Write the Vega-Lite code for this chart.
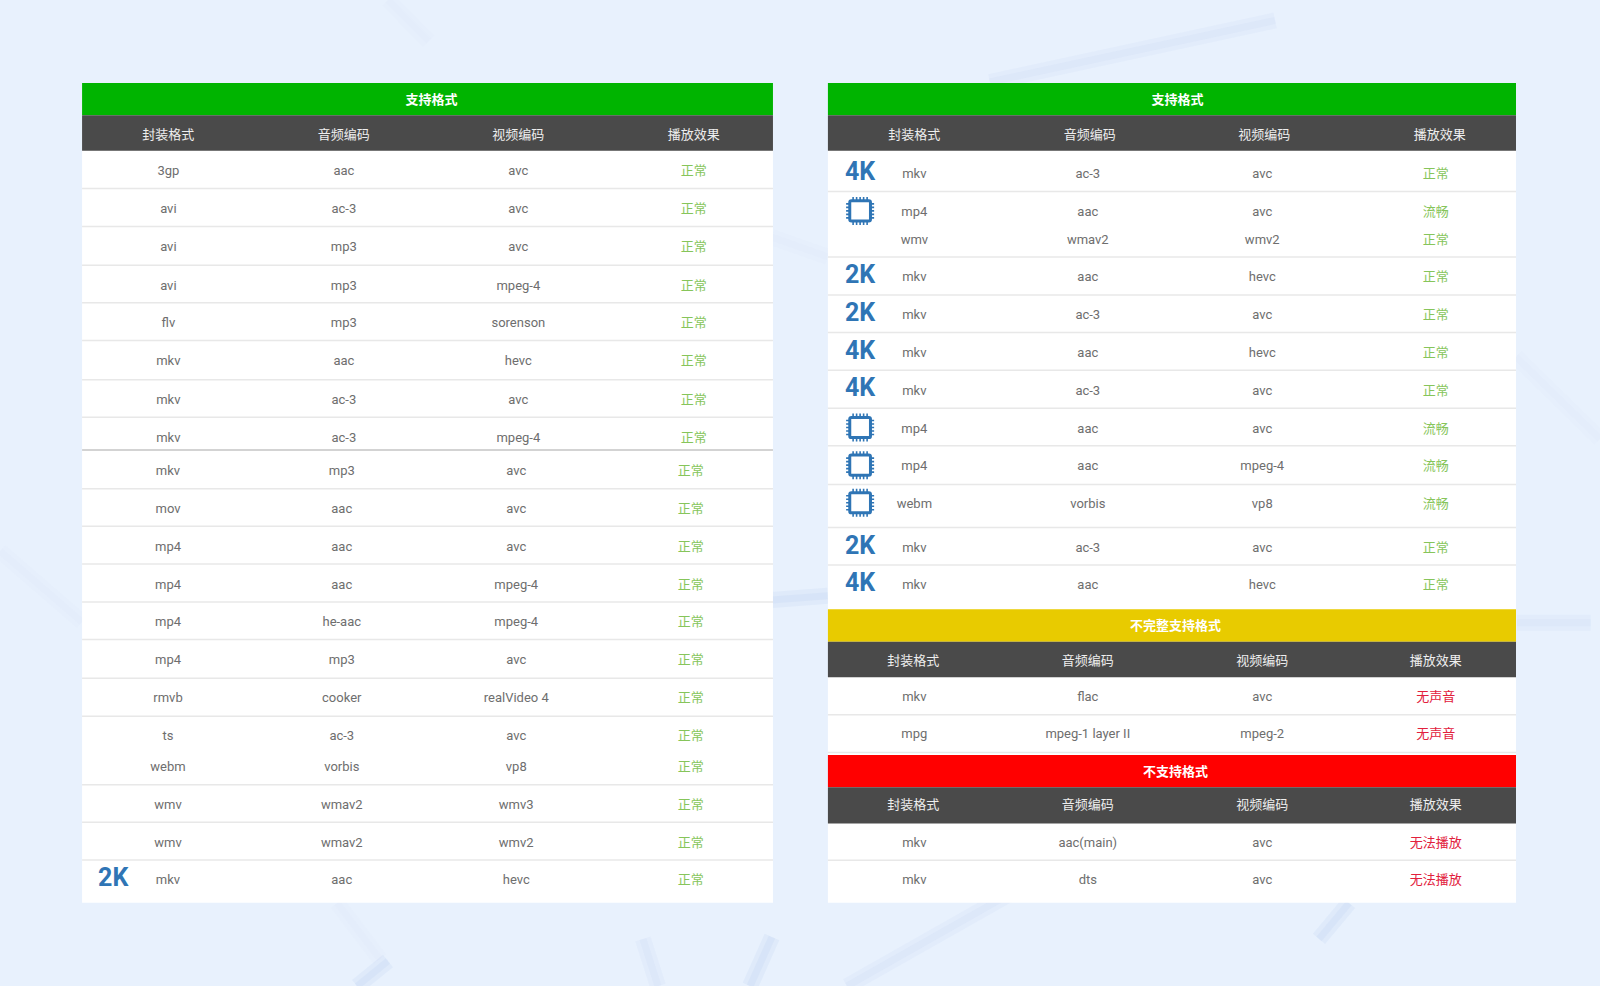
{
  "$schema": "https://vega.github.io/schema/vega-lite/v6.json",
  "width": 1600,
  "height": 986,
  "autosize": {"type": "fit", "contains": "padding"},
  "padding": 0,
  "background": "#e8f1fd",
  "view": {"stroke": null},
  "config": {"text": {"font": "Roboto, 'Noto Sans CJK SC'", "fontSize": 13}},
  "resolve": {"scale": {"color": "independent"}},
  "datasets": {
    "streaks": [
      {"col": 5.657, "row": 2.158, "col2": 7.286, "row2": 0.537, "strength": 2},
      {"col": 7.537, "row": 24.71, "col2": 7.709, "row2": 23.76, "strength": 3},
      {"col": 8.669, "row": 16.39, "col2": 9.09, "row2": 16.39, "strength": 2},
      {"col": 4.41, "row": 15.79, "col2": 4.73, "row2": 15.68, "strength": 3},
      {"col": 4.286, "row": 25.95, "col2": 4.411, "row2": 24.66, "strength": 3},
      {"col": 4.84, "row": 25.95, "col2": 5.83, "row2": 23.37, "strength": 2},
      {"col": 3.674, "row": 24.71, "col2": 3.76, "row2": 25.95, "strength": 2},
      {"col": 2.04, "row": 25.95, "col2": 2.217, "row2": 25.29, "strength": 3},
      {"col": 0, "row": 14.5, "col2": 0.469, "row2": 16.37, "strength": 1},
      {"col": 1.926, "row": 23.76, "col2": 2.171, "row2": 25.24, "strength": 1},
      {"col": 4.41, "row": 6.24, "col2": 4.73, "row2": 6.76, "strength": 1},
      {"col": 8.663, "row": 9.39, "col2": 9.143, "row2": 11.55, "strength": 1},
      {"col": 2.217, "row": 0, "col2": 2.451, "row2": 1.08, "strength": 1}
    ],
    "bands": [
      {"col": 0.469, "col2": 4.417, "row": 2.184, "row2": 23.755, "kind": "body"},
      {"col": 0.469, "col2": 4.417, "row": 2.184, "row2": 3.034, "kind": "ok"},
      {"col": 0.469, "col2": 4.417, "row": 3.034, "row2": 3.966, "kind": "head"},
      {"col": 4.731, "col2": 8.663, "row": 2.184, "row2": 23.755, "kind": "body"},
      {"col": 4.731, "col2": 8.663, "row": 2.184, "row2": 3.034, "kind": "ok"},
      {"col": 4.731, "col2": 8.663, "row": 3.034, "row2": 3.966, "kind": "head"},
      {"col": 4.731, "col2": 8.663, "row": 16.03, "row2": 16.89, "kind": "partial"},
      {"col": 4.731, "col2": 8.663, "row": 16.89, "row2": 17.82, "kind": "head"},
      {"col": 4.731, "col2": 8.663, "row": 19.87, "row2": 20.72, "kind": "none"},
      {"col": 4.731, "col2": 8.663, "row": 20.72, "row2": 21.67, "kind": "head"}
    ],
    "lines": [
      {"col": 0.469, "col2": 4.417, "row": 4.96, "tone": "light"},
      {"col": 0.469, "col2": 4.417, "row": 5.96, "tone": "light"},
      {"col": 0.469, "col2": 4.417, "row": 6.98, "tone": "light"},
      {"col": 0.469, "col2": 4.417, "row": 7.97, "tone": "light"},
      {"col": 0.469, "col2": 4.417, "row": 8.96, "tone": "light"},
      {"col": 0.469, "col2": 4.417, "row": 9.99, "tone": "light"},
      {"col": 0.469, "col2": 4.417, "row": 10.98, "tone": "light"},
      {"col": 0.469, "col2": 4.417, "row": 11.84, "tone": "dark"},
      {"col": 0.469, "col2": 4.417, "row": 12.86, "tone": "light"},
      {"col": 0.469, "col2": 4.417, "row": 13.85, "tone": "light"},
      {"col": 0.469, "col2": 4.417, "row": 14.84, "tone": "light"},
      {"col": 0.469, "col2": 4.417, "row": 15.84, "tone": "light"},
      {"col": 0.469, "col2": 4.417, "row": 16.83, "tone": "light"},
      {"col": 0.469, "col2": 4.417, "row": 17.85, "tone": "light"},
      {"col": 0.469, "col2": 4.417, "row": 18.85, "tone": "light"},
      {"col": 0.469, "col2": 4.417, "row": 20.65, "tone": "light"},
      {"col": 0.469, "col2": 4.417, "row": 21.64, "tone": "light"},
      {"col": 0.469, "col2": 4.417, "row": 22.63, "tone": "light"},
      {"col": 4.731, "col2": 8.663, "row": 5.04, "tone": "light"},
      {"col": 4.731, "col2": 8.663, "row": 6.76, "tone": "light"},
      {"col": 4.731, "col2": 8.663, "row": 7.76, "tone": "light"},
      {"col": 4.731, "col2": 8.663, "row": 8.75, "tone": "light"},
      {"col": 4.731, "col2": 8.663, "row": 9.74, "tone": "light"},
      {"col": 4.731, "col2": 8.663, "row": 10.74, "tone": "light"},
      {"col": 4.731, "col2": 8.663, "row": 11.73, "tone": "light"},
      {"col": 4.731, "col2": 8.663, "row": 12.75, "tone": "light"},
      {"col": 4.731, "col2": 8.663, "row": 13.88, "tone": "light"},
      {"col": 4.731, "col2": 8.663, "row": 14.87, "tone": "light"},
      {"col": 4.731, "col2": 8.663, "row": 18.81, "tone": "light"},
      {"col": 4.731, "col2": 8.663, "row": 19.8, "tone": "light"},
      {"col": 4.731, "col2": 8.663, "row": 22.64, "tone": "light"}
    ],
    "badges": [
      {"col": 0.647, "row": 23.06, "label": "2K"},
      {"col": 4.915, "row": 4.48, "label": "4K"},
      {"col": 4.915, "row": 7.19, "label": "2K"},
      {"col": 4.915, "row": 8.19, "label": "2K"},
      {"col": 4.915, "row": 9.18, "label": "4K"},
      {"col": 4.915, "row": 10.17, "label": "4K"},
      {"col": 4.915, "row": 14.31, "label": "2K"},
      {"col": 4.915, "row": 15.3, "label": "4K"}
    ],
    "chips": [
      {"col": 4.915, "row": 5.55},
      {"col": 4.915, "row": 11.25},
      {"col": 4.915, "row": 12.24},
      {"col": 4.915, "row": 13.23}
    ],
    "cells": [
      {"col": 2.466, "row": 2.6, "label": "支持格式", "kind": "title"},
      {"col": 0.962, "row": 3.52, "label": "封装格式", "kind": "head"},
      {"col": 1.965, "row": 3.52, "label": "音频编码", "kind": "head"},
      {"col": 2.962, "row": 3.52, "label": "视频编码", "kind": "head"},
      {"col": 3.965, "row": 3.52, "label": "播放效果", "kind": "head"},
      {"col": 0.962, "row": 4.48, "label": "3gp", "kind": "cell"},
      {"col": 1.965, "row": 4.48, "label": "aac", "kind": "cell"},
      {"col": 2.962, "row": 4.48, "label": "avc", "kind": "cell"},
      {"col": 3.965, "row": 4.48, "label": "正常", "kind": "good"},
      {"col": 0.962, "row": 5.47, "label": "avi", "kind": "cell"},
      {"col": 1.965, "row": 5.47, "label": "ac-3", "kind": "cell"},
      {"col": 2.962, "row": 5.47, "label": "avc", "kind": "cell"},
      {"col": 3.965, "row": 5.47, "label": "正常", "kind": "good"},
      {"col": 0.962, "row": 6.47, "label": "avi", "kind": "cell"},
      {"col": 1.965, "row": 6.47, "label": "mp3", "kind": "cell"},
      {"col": 2.962, "row": 6.47, "label": "avc", "kind": "cell"},
      {"col": 3.965, "row": 6.47, "label": "正常", "kind": "good"},
      {"col": 0.962, "row": 7.49, "label": "avi", "kind": "cell"},
      {"col": 1.965, "row": 7.49, "label": "mp3", "kind": "cell"},
      {"col": 2.962, "row": 7.49, "label": "mpeg-4", "kind": "cell"},
      {"col": 3.965, "row": 7.49, "label": "正常", "kind": "good"},
      {"col": 0.962, "row": 8.48, "label": "flv", "kind": "cell"},
      {"col": 1.965, "row": 8.48, "label": "mp3", "kind": "cell"},
      {"col": 2.962, "row": 8.48, "label": "sorenson", "kind": "cell"},
      {"col": 3.965, "row": 8.48, "label": "正常", "kind": "good"},
      {"col": 0.962, "row": 9.47, "label": "mkv", "kind": "cell"},
      {"col": 1.965, "row": 9.47, "label": "aac", "kind": "cell"},
      {"col": 2.962, "row": 9.47, "label": "hevc", "kind": "cell"},
      {"col": 3.965, "row": 9.47, "label": "正常", "kind": "good"},
      {"col": 0.962, "row": 10.5, "label": "mkv", "kind": "cell"},
      {"col": 1.965, "row": 10.5, "label": "ac-3", "kind": "cell"},
      {"col": 2.962, "row": 10.5, "label": "avc", "kind": "cell"},
      {"col": 3.965, "row": 10.5, "label": "正常", "kind": "good"},
      {"col": 0.962, "row": 11.49, "label": "mkv", "kind": "cell"},
      {"col": 1.965, "row": 11.49, "label": "ac-3", "kind": "cell"},
      {"col": 2.962, "row": 11.49, "label": "mpeg-4", "kind": "cell"},
      {"col": 3.965, "row": 11.49, "label": "正常", "kind": "good"},
      {"col": 0.96, "row": 12.37, "label": "mkv", "kind": "cell"},
      {"col": 1.953, "row": 12.37, "label": "mp3", "kind": "cell"},
      {"col": 2.95, "row": 12.37, "label": "avc", "kind": "cell"},
      {"col": 3.947, "row": 12.37, "label": "正常", "kind": "good"},
      {"col": 0.96, "row": 13.37, "label": "mov", "kind": "cell"},
      {"col": 1.953, "row": 13.37, "label": "aac", "kind": "cell"},
      {"col": 2.95, "row": 13.37, "label": "avc", "kind": "cell"},
      {"col": 3.947, "row": 13.37, "label": "正常", "kind": "good"},
      {"col": 0.96, "row": 14.36, "label": "mp4", "kind": "cell"},
      {"col": 1.953, "row": 14.36, "label": "aac", "kind": "cell"},
      {"col": 2.95, "row": 14.36, "label": "avc", "kind": "cell"},
      {"col": 3.947, "row": 14.36, "label": "正常", "kind": "good"},
      {"col": 0.96, "row": 15.36, "label": "mp4", "kind": "cell"},
      {"col": 1.953, "row": 15.36, "label": "aac", "kind": "cell"},
      {"col": 2.95, "row": 15.36, "label": "mpeg-4", "kind": "cell"},
      {"col": 3.947, "row": 15.36, "label": "正常", "kind": "good"},
      {"col": 0.96, "row": 16.35, "label": "mp4", "kind": "cell"},
      {"col": 1.953, "row": 16.35, "label": "he-aac", "kind": "cell"},
      {"col": 2.95, "row": 16.35, "label": "mpeg-4", "kind": "cell"},
      {"col": 3.947, "row": 16.35, "label": "正常", "kind": "good"},
      {"col": 0.96, "row": 17.34, "label": "mp4", "kind": "cell"},
      {"col": 1.953, "row": 17.34, "label": "mp3", "kind": "cell"},
      {"col": 2.95, "row": 17.34, "label": "avc", "kind": "cell"},
      {"col": 3.947, "row": 17.34, "label": "正常", "kind": "good"},
      {"col": 0.96, "row": 18.34, "label": "rmvb", "kind": "cell"},
      {"col": 1.953, "row": 18.34, "label": "cooker", "kind": "cell"},
      {"col": 2.95, "row": 18.34, "label": "realVideo 4", "kind": "cell"},
      {"col": 3.947, "row": 18.34, "label": "正常", "kind": "good"},
      {"col": 0.96, "row": 19.33, "label": "ts", "kind": "cell"},
      {"col": 1.953, "row": 19.33, "label": "ac-3", "kind": "cell"},
      {"col": 2.95, "row": 19.33, "label": "avc", "kind": "cell"},
      {"col": 3.947, "row": 19.33, "label": "正常", "kind": "good"},
      {"col": 0.96, "row": 20.16, "label": "webm", "kind": "cell"},
      {"col": 1.953, "row": 20.16, "label": "vorbis", "kind": "cell"},
      {"col": 2.95, "row": 20.16, "label": "vp8", "kind": "cell"},
      {"col": 3.947, "row": 20.16, "label": "正常", "kind": "good"},
      {"col": 0.96, "row": 21.16, "label": "wmv", "kind": "cell"},
      {"col": 1.953, "row": 21.16, "label": "wmav2", "kind": "cell"},
      {"col": 2.95, "row": 21.16, "label": "wmv3", "kind": "cell"},
      {"col": 3.947, "row": 21.16, "label": "正常", "kind": "good"},
      {"col": 0.96, "row": 22.15, "label": "wmv", "kind": "cell"},
      {"col": 1.953, "row": 22.15, "label": "wmav2", "kind": "cell"},
      {"col": 2.95, "row": 22.15, "label": "wmv2", "kind": "cell"},
      {"col": 3.947, "row": 22.15, "label": "正常", "kind": "good"},
      {"col": 0.96, "row": 23.14, "label": "mkv", "kind": "cell"},
      {"col": 1.953, "row": 23.14, "label": "aac", "kind": "cell"},
      {"col": 2.95, "row": 23.14, "label": "hevc", "kind": "cell"},
      {"col": 3.947, "row": 23.14, "label": "正常", "kind": "good"},

      {"col": 6.729, "row": 2.6, "label": "支持格式", "kind": "title"},
      {"col": 5.225, "row": 3.52, "label": "封装格式", "kind": "head"},
      {"col": 6.227, "row": 3.52, "label": "音频编码", "kind": "head"},
      {"col": 7.225, "row": 3.52, "label": "视频编码", "kind": "head"},
      {"col": 8.227, "row": 3.52, "label": "播放效果", "kind": "head"},
      {"col": 5.225, "row": 4.56, "label": "mkv", "kind": "cell"},
      {"col": 6.216, "row": 4.56, "label": "ac-3", "kind": "cell"},
      {"col": 7.213, "row": 4.56, "label": "avc", "kind": "cell"},
      {"col": 8.204, "row": 4.56, "label": "正常", "kind": "good"},
      {"col": 5.225, "row": 5.55, "label": "mp4", "kind": "cell"},
      {"col": 6.216, "row": 5.55, "label": "aac", "kind": "cell"},
      {"col": 7.213, "row": 5.55, "label": "avc", "kind": "cell"},
      {"col": 8.204, "row": 5.55, "label": "流畅", "kind": "good"},
      {"col": 5.225, "row": 6.28, "label": "wmv", "kind": "cell"},
      {"col": 6.216, "row": 6.28, "label": "wmav2", "kind": "cell"},
      {"col": 7.213, "row": 6.28, "label": "wmv2", "kind": "cell"},
      {"col": 8.204, "row": 6.28, "label": "正常", "kind": "good"},
      {"col": 5.225, "row": 7.27, "label": "mkv", "kind": "cell"},
      {"col": 6.216, "row": 7.27, "label": "aac", "kind": "cell"},
      {"col": 7.213, "row": 7.27, "label": "hevc", "kind": "cell"},
      {"col": 8.204, "row": 7.27, "label": "正常", "kind": "good"},
      {"col": 5.225, "row": 8.27, "label": "mkv", "kind": "cell"},
      {"col": 6.216, "row": 8.27, "label": "ac-3", "kind": "cell"},
      {"col": 7.213, "row": 8.27, "label": "avc", "kind": "cell"},
      {"col": 8.204, "row": 8.27, "label": "正常", "kind": "good"},
      {"col": 5.225, "row": 9.26, "label": "mkv", "kind": "cell"},
      {"col": 6.216, "row": 9.26, "label": "aac", "kind": "cell"},
      {"col": 7.213, "row": 9.26, "label": "hevc", "kind": "cell"},
      {"col": 8.204, "row": 9.26, "label": "正常", "kind": "good"},
      {"col": 5.225, "row": 10.25, "label": "mkv", "kind": "cell"},
      {"col": 6.216, "row": 10.25, "label": "ac-3", "kind": "cell"},
      {"col": 7.213, "row": 10.25, "label": "avc", "kind": "cell"},
      {"col": 8.204, "row": 10.25, "label": "正常", "kind": "good"},
      {"col": 5.225, "row": 11.25, "label": "mp4", "kind": "cell"},
      {"col": 6.216, "row": 11.25, "label": "aac", "kind": "cell"},
      {"col": 7.213, "row": 11.25, "label": "avc", "kind": "cell"},
      {"col": 8.204, "row": 11.25, "label": "流畅", "kind": "good"},
      {"col": 5.225, "row": 12.24, "label": "mp4", "kind": "cell"},
      {"col": 6.216, "row": 12.24, "label": "aac", "kind": "cell"},
      {"col": 7.213, "row": 12.24, "label": "mpeg-4", "kind": "cell"},
      {"col": 8.204, "row": 12.24, "label": "流畅", "kind": "good"},
      {"col": 5.225, "row": 13.23, "label": "webm", "kind": "cell"},
      {"col": 6.216, "row": 13.23, "label": "vorbis", "kind": "cell"},
      {"col": 7.213, "row": 13.23, "label": "vp8", "kind": "cell"},
      {"col": 8.204, "row": 13.23, "label": "流畅", "kind": "good"},
      {"col": 5.225, "row": 14.39, "label": "mkv", "kind": "cell"},
      {"col": 6.216, "row": 14.39, "label": "ac-3", "kind": "cell"},
      {"col": 7.213, "row": 14.39, "label": "avc", "kind": "cell"},
      {"col": 8.204, "row": 14.39, "label": "正常", "kind": "good"},
      {"col": 5.225, "row": 15.38, "label": "mkv", "kind": "cell"},
      {"col": 6.216, "row": 15.38, "label": "aac", "kind": "cell"},
      {"col": 7.213, "row": 15.38, "label": "hevc", "kind": "cell"},
      {"col": 8.204, "row": 15.38, "label": "正常", "kind": "good"},

      {"col": 6.717, "row": 16.46, "label": "不完整支持格式", "kind": "title"},
      {"col": 5.219, "row": 17.36, "label": "封装格式", "kind": "head"},
      {"col": 6.216, "row": 17.36, "label": "音频编码", "kind": "head"},
      {"col": 7.213, "row": 17.36, "label": "视频编码", "kind": "head"},
      {"col": 8.204, "row": 17.36, "label": "播放效果", "kind": "head"},
      {"col": 5.225, "row": 18.31, "label": "mkv", "kind": "cell"},
      {"col": 6.216, "row": 18.31, "label": "flac", "kind": "cell"},
      {"col": 7.213, "row": 18.31, "label": "avc", "kind": "cell"},
      {"col": 8.204, "row": 18.31, "label": "无声音", "kind": "bad"},
      {"col": 5.225, "row": 19.3, "label": "mpg", "kind": "cell"},
      {"col": 6.216, "row": 19.3, "label": "mpeg-1 layer II", "kind": "cell"},
      {"col": 7.213, "row": 19.3, "label": "mpeg-2", "kind": "cell"},
      {"col": 8.204, "row": 19.3, "label": "无声音", "kind": "bad"},

      {"col": 6.717, "row": 20.29, "label": "不支持格式", "kind": "title"},
      {"col": 5.219, "row": 21.17, "label": "封装格式", "kind": "head"},
      {"col": 6.216, "row": 21.17, "label": "音频编码", "kind": "head"},
      {"col": 7.213, "row": 21.17, "label": "视频编码", "kind": "head"},
      {"col": 8.204, "row": 21.17, "label": "播放效果", "kind": "head"},
      {"col": 5.225, "row": 22.15, "label": "mkv", "kind": "cell"},
      {"col": 6.216, "row": 22.15, "label": "aac(main)", "kind": "cell"},
      {"col": 7.213, "row": 22.15, "label": "avc", "kind": "cell"},
      {"col": 8.204, "row": 22.15, "label": "无法播放", "kind": "bad"},
      {"col": 5.225, "row": 23.14, "label": "mkv", "kind": "cell"},
      {"col": 6.216, "row": 23.14, "label": "dts", "kind": "cell"},
      {"col": 7.213, "row": 23.14, "label": "avc", "kind": "cell"},
      {"col": 8.204, "row": 23.14, "label": "无法播放", "kind": "bad"}
    ]
  },
  "encoding": {
    "x": {"field": "col", "type": "quantitative", "axis": null, "scale": {"domain": [0, 9.143], "nice": false, "zero": false}},
    "y": {"field": "row", "type": "quantitative", "axis": null, "scale": {"domain": [0, 25.947], "reverse": true, "nice": false, "zero": false}}
  },
  "layer": [
    {
      "data": {"name": "streaks"},
      "mark": {"type": "rule", "color": "#b6cbee", "strokeWidth": 16, "clip": true},
      "encoding": {
        "x2": {"field": "col2"},
        "y2": {"field": "row2"},
        "opacity": {"field": "strength", "type": "quantitative", "legend": null, "scale": {"domain": [1, 3], "range": [0.03, 0.18]}}
      }
    },
    {
      "data": {"name": "streaks"},
      "mark": {"type": "rule", "color": "#b6cbee", "strokeWidth": 7, "clip": true},
      "encoding": {
        "x2": {"field": "col2"},
        "y2": {"field": "row2"},
        "opacity": {"field": "strength", "type": "quantitative", "legend": null, "scale": {"domain": [1, 3], "range": [0.03, 0.18]}}
      }
    },
    {
      "data": {"name": "bands"},
      "mark": {"type": "rect"},
      "encoding": {
        "x2": {"field": "col2"},
        "y2": {"field": "row2"},
        "color": {"field": "kind", "type": "nominal", "legend": null, "scale": {"domain": ["body", "ok", "head", "partial", "none"], "range": ["#ffffff", "#00b400", "#4a4a4a", "#e8cb00", "#ff0000"]}}
      }
    },
    {
      "data": {"name": "lines"},
      "mark": {"type": "rule", "strokeWidth": 1.5},
      "encoding": {
        "x2": {"field": "col2"},
        "stroke": {"field": "tone", "type": "nominal", "legend": null, "scale": {"domain": ["light", "dark"], "range": ["#e8e8e8", "#c4c4c4"]}}
      }
    },
    {
      "data": {"name": "cells"},
      "transform": [{"filter": "datum.kind !== 'title'"}],
      "mark": {"type": "text", "baseline": "middle", "align": "center", "dy": 1},
      "encoding": {
        "text": {"field": "label"},
        "color": {"field": "kind", "type": "nominal", "legend": null, "scale": {"domain": ["head", "cell", "good", "bad"], "range": ["#eeeeee", "#6e6e6e", "#86c55a", "#e2203c"]}}
      }
    },
    {
      "data": {"name": "cells"},
      "transform": [{"filter": "datum.kind === 'title'"}],
      "mark": {"type": "text", "baseline": "middle", "align": "center", "dy": 1, "fontWeight": "bold", "color": "#ffffff"},
      "encoding": {"text": {"field": "label"}}
    },
    {
      "data": {"name": "badges"},
      "mark": {"type": "text", "baseline": "middle", "align": "center", "dy": 2, "font": "Roboto", "fontWeight": "bold", "fontSize": 25, "color": "#2f75b5"},
      "encoding": {"text": {"field": "label"}}
    },
    {
      "data": {"name": "chips"},
      "mark": {"type": "point", "filled": false, "opacity": 1, "size": 784, "color": "#2f75b5", "strokeWidth": 3, "shape": "M-.62,-.72H.62Q.74,-.72 .74,-.6V.6Q.74,.72 .62,.72H-.62Q-.74,.72 -.74,.6V-.6Q-.74,-.72 -.62,-.72Z"}
    },
    {
      "data": {"name": "chips"},
      "mark": {"type": "point", "filled": false, "opacity": 1, "size": 784, "color": "#2f75b5", "strokeWidth": 1.6, "shape": "M-.5,-1V-.75M-.25,-1V-.75M0,-1V-.75M.25,-1V-.75M.5,-1V-.75M-.5,.75V1M-.25,.75V1M0,.75V1M.25,.75V1M.5,.75V1M-1,-.5H-.75M-1,-.25H-.75M-1,0H-.75M-1,.25H-.75M-1,.5H-.75M.75,-.5H1M.75,-.25H1M.75,0H1M.75,.25H1M.75,.5H1"}
    }
  ]
}
